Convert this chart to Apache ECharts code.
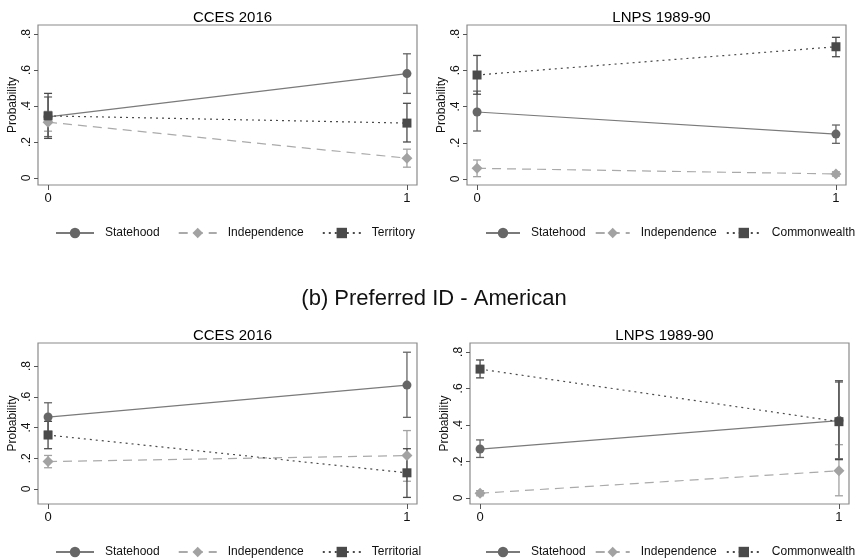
<!DOCTYPE html>
<html>
<head>
<meta charset="utf-8">
<script src="https://cdn.jsdelivr.net/npm/echarts@6/dist/echarts.min.js"></script>
<style>
  html, body { margin: 0; padding: 0; background: #fff; }
  #main { width: 858px; height: 559px; }
</style>
</head>
<body>
<div id="main"></div>
<script>
// x categories (0 / 1), y tick labels
var xTicks = [0, 1];
var yTicks = [0, 0.2, 0.4, 0.6, 0.8];

var panelTitles = ["CCES 2016", "LNPS 1989-90", "CCES 2016", "LNPS 1989-90"];
var thirdNames = ["Territory", "Commonwealth", "Territorial", "Commonwealth"];

// point estimates [x=0, x=1] and CI as [lo, hi]
// panel 1: CCES 2016 (top)
var p1State = [0.34, 0.58];
var p1StateCI = [[0.23, 0.45], [0.47, 0.69]];
var p1Indep = [0.31, 0.11];
var p1IndepCI = [[0.26, 0.37], [0.06, 0.16]];
var p1Third = [0.345, 0.305];
var p1ThirdCI = [[0.22, 0.47], [0.20, 0.415]];

// panel 2: LNPS 1989-90 (top)
var p2State = [0.37, 0.248];
var p2StateCI = [[0.265, 0.485], [0.197, 0.298]];
var p2Indep = [0.059, 0.028];
var p2IndepCI = [[0.013, 0.105], [0.016, 0.040]];
var p2Third = [0.574, 0.73];
var p2ThirdCI = [[0.468, 0.682], [0.675, 0.782]];

// panel 3: CCES 2016 (bottom)
var p3State = [0.468, 0.676];
var p3StateCI = [[0.375, 0.561], [0.466, 0.89]];
var p3Indep = [0.178, 0.217];
var p3IndepCI = [[0.138, 0.218], [0.05, 0.38]];
var p3Third = [0.351, 0.105];
var p3ThirdCI = [[0.262, 0.44], [-0.055, 0.262]];

// panel 4: LNPS 1989-90 (bottom)
var p4State = [0.268, 0.424];
var p4StateCI = [[0.222, 0.318], [0.215, 0.635]];
var p4Indep = [0.026, 0.149];
var p4IndepCI = [[0.012, 0.04], [0.012, 0.292]];
var p4Third = [0.706, 0.418];
var p4ThirdCI = [[0.658, 0.756], [0.21, 0.642]];

var yMin = [-0.039, -0.033, -0.098, -0.033];
var yMax = [0.85, 0.85, 0.95, 0.849];

var panels = [
  { st: p1State, stCI: p1StateCI, ind: p1Indep, indCI: p1IndepCI, th: p1Third, thCI: p1ThirdCI },
  { st: p2State, stCI: p2StateCI, ind: p2Indep, indCI: p2IndepCI, th: p2Third, thCI: p2ThirdCI },
  { st: p3State, stCI: p3StateCI, ind: p3Indep, indCI: p3IndepCI, th: p3Third, thCI: p3ThirdCI },
  { st: p4State, stCI: p4StateCI, ind: p4Indep, indCI: p4IndepCI, th: p4Third, thCI: p4ThirdCI }
];

var grids = [
  { left: 38, top: 25, width: 379, height: 160 },
  { left: 467, top: 25, width: 379, height: 160 },
  { left: 38, top: 343, width: 379, height: 161 },
  { left: 470, top: 343, width: 379, height: 161 }
];
// legend placement per panel
var legLeft = [50, 480, 50, 480];
var legGap = [18, 9, 18, 9];
var legIconW = [38, 34, 38, 34];

var stColor = "#666", indColor = "#a2a2a2", thColor = "#4a4a4a";
var font = "Liberation Sans, Arial, sans-serif";

function pts(vals) {
  return xTicks.map(function (x, i) { return [x, vals[i]]; });
}
function ciData(ci) {
  return xTicks.map(function (x, i) { return [x, ci[i][0], ci[i][1]]; });
}
function errBar(color, idx, ci) {
  return {
    type: "custom",
    xAxisIndex: idx, yAxisIndex: idx,
    silent: true, z: 1,
    data: ciData(ci),
    renderItem: function (params, api) {
      var lo = api.coord([api.value(0), api.value(1)]);
      var hi = api.coord([api.value(0), api.value(2)]);
      var w = 4;
      var st = { stroke: color, lineWidth: 1.3 };
      return {
        type: "group",
        children: [
          { type: "line", shape: { x1: lo[0], y1: lo[1], x2: hi[0], y2: hi[1] }, style: st },
          { type: "line", shape: { x1: lo[0] - w, y1: lo[1], x2: lo[0] + w, y2: lo[1] }, style: st },
          { type: "line", shape: { x1: hi[0] - w, y1: hi[1], x2: hi[0] + w, y2: hi[1] }, style: st }
        ]
      };
    }
  };
}
function lineSeries(name, idx, vals, color, lineColor, type, symbol, size) {
  return {
    name: name, type: "line",
    xAxisIndex: idx, yAxisIndex: idx, z: 3,
    data: pts(vals),
    symbol: symbol, symbolSize: size,
    itemStyle: { color: color },
    lineStyle: { color: lineColor, width: 1.2, type: type },
    emphasis: { disabled: true },
    animation: false
  };
}

var xAxes = [], yAxes = [], series = [], legends = [], titles = [];

grids.forEach(function (g, i) {
  var p = panels[i];
  xAxes.push({
    type: "value", gridIndex: i, min: -0.028, max: 1.028,
    axisLine: { show: false, onZero: false },
    splitLine: { show: false },
    axisTick: { customValues: xTicks, length: 5, lineStyle: { color: "#555" } },
    axisLabel: { customValues: xTicks, color: "#111", fontSize: 13, fontFamily: font, margin: 7 }
  });
  yAxes.push({
    type: "value", gridIndex: i, min: yMin[i], max: yMax[i],
    name: "Probability", nameLocation: "middle", nameGap: 19,
    nameTextStyle: { color: "#111", fontSize: 12, fontFamily: font },
    axisLine: { show: false, onZero: false },
    splitLine: { show: false },
    axisTick: { customValues: yTicks, length: 4, lineStyle: { color: "#555" } },
    axisLabel: {
      customValues: yTicks, rotate: 90, color: "#111", fontSize: 12, fontFamily: font, margin: 5,
      formatter: function (v) { return v === 0 ? "0" : String(Math.round(v * 10) / 10).replace(/^0/, ""); }
    }
  });
  series.push(errBar(stColor, i, p.stCI));
  series.push(errBar(indColor, i, p.indCI));
  series.push(errBar(thColor, i, p.thCI));
  series.push(lineSeries("Statehood", i, p.st, stColor, "#7a7a7a", "solid", "circle", 9));
  series.push(lineSeries("Independence", i, p.ind, indColor, "#aaaaaa", [9, 6], "diamond", 11));
  series.push(lineSeries(thirdNames[i], i, p.th, thColor, "#4a4a4a", [2, 4], "rect", 9));

  titles.push({
    text: panelTitles[i],
    left: g.left + g.width / 2, top: g.top - 20, textAlign: "center",
    textStyle: { fontSize: 15, fontWeight: "normal", color: "#000", fontFamily: font }
  });
  legends.push({
    data: ["Statehood", "Independence", thirdNames[i]],
    left: legLeft[i], top: g.top + g.height + 37, width: 420,
    itemWidth: legIconW[i], itemHeight: 13, itemGap: legGap[i],
    selectedMode: false,
    textStyle: { fontSize: 12, color: "#111", fontFamily: font, padding: [0, 0, 0, 6] }
  });
});

titles.push({
  text: "(b) Preferred ID - American",
  left: 429, top: 283, textAlign: "center",
  textStyle: { fontSize: 22, fontWeight: "normal", color: "#111", fontFamily: font }
});

var chart = echarts.init(document.getElementById("main"), null, { renderer: "canvas" });
chart.setOption({
  backgroundColor: "#fff",
  animation: false,
  title: titles,
  legend: legends,
  grid: grids.map(function (g) {
    return { left: g.left, top: g.top, width: g.width, height: g.height, show: true, borderColor: "#8a8a8a", borderWidth: 1.2, backgroundColor: "transparent" };
  }),
  xAxis: xAxes,
  yAxis: yAxes,
  series: series
});
</script>
</body>
</html>
